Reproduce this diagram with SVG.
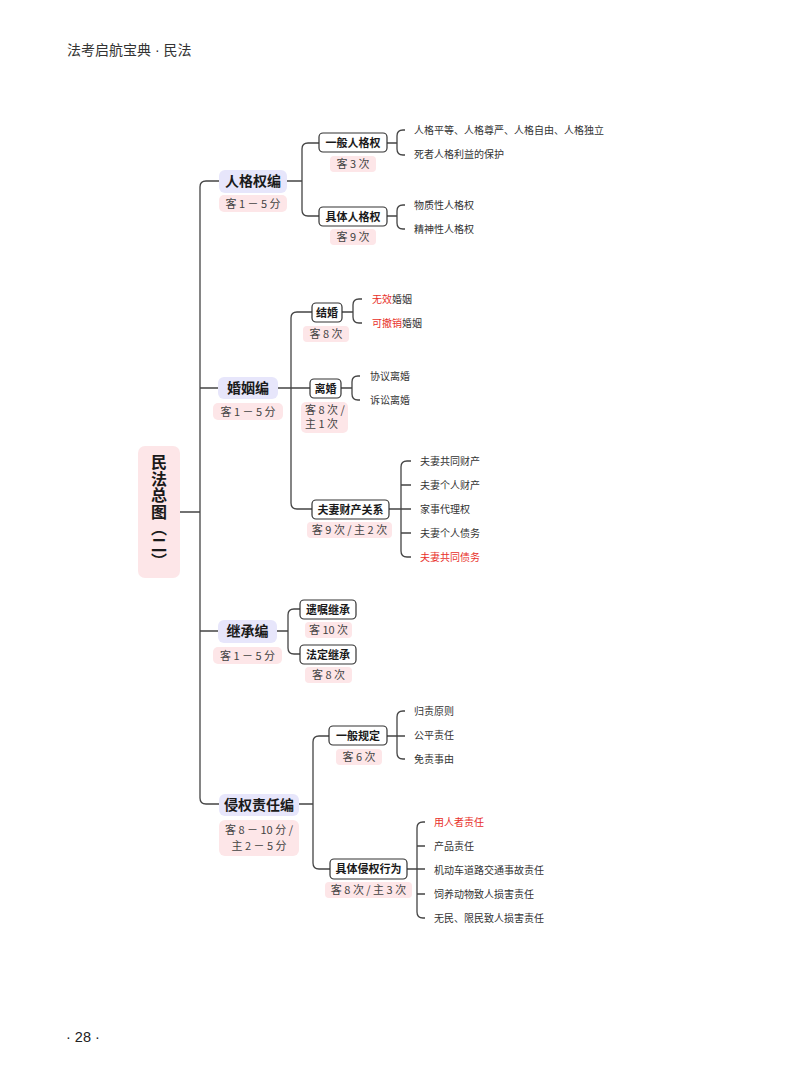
<svg xmlns="http://www.w3.org/2000/svg" width="800" height="1086" viewBox="0 0 800 1086">
<style>
text{font-family:"Noto Sans CJK SC","Noto Sans",sans-serif;fill:#333}
.l1{font-size:14px;font-weight:bold;fill:#1a1a1a;text-anchor:middle}
.l2{font-size:11px;font-weight:bold;fill:#1a1a1a;text-anchor:middle}
.lb{font-size:11px;text-anchor:middle;fill:#444}
.lf{font-size:10px}
.red{fill:#e8302a}
.r1{fill:#e7e6fb}
.r2{fill:#fff;stroke:#333;stroke-width:1.2}
.pk{fill:#fde6e8}
.cn{fill:none;stroke:#444;stroke-width:1.3}
</style>
<rect width="800" height="1086" fill="#fff"/>
<text x="67" y="55" style="font-size:14px;fill:#333">法考启航宝典<tspan style="font-family:'Liberation Sans',sans-serif"> · </tspan>民法</text>
<text x="66" y="1042" style="font-size:14.5px;fill:#222;font-family:'Liberation Sans',sans-serif">· 28 ·</text>

<g id="connectors" class="cn">
<path d="M180,512 H200 M220,181 H206 Q200,181 200,187 V798 Q200,804 206,804 H219 M200,388 H218 M200,631 H218"/>
<path d="M287,181 H302 M319,143 H308 Q302,143 302,149 V210 Q302,216 308,216 H319"/>
<path d="M387,143 H397 M405,130 H403 Q397,130 397,136 V149 Q397,155 403,155 H405"/>
<path d="M387,216 H397 M405,205 H403 Q397,205 397,211 V223 Q397,229 403,229 H405"/>
<path d="M278,388 H310 M312,312 H297 Q291,312 291,318 V503 Q291,509 297,509 H312"/>
<path d="M342,312 H353 M362,299 H359 Q353,299 353,305 V317 Q353,323 359,323 H362"/>
<path d="M341,388 H352 M360,376 H358 Q352,376 352,382 V394 Q352,400 358,400 H360"/>
<path d="M389,509 H411 M411,461 H407 Q401,461 401,467 V551 Q401,557 407,557 H411 M401,485 H411 M401,533 H411"/>
<path d="M277,631 H288 M300,609 H294 Q288,609 288,615 V648 Q288,654 294,654 H300"/>
<path d="M299,804 H313 M329,736 H319 Q313,736 313,742 V863 Q313,869 319,869 H330"/>
<path d="M387,736 H405 M405,711 H403 Q397,711 397,717 V753 Q397,759 403,759 H405"/>
<path d="M407,869 H425 M425,822 H423 Q417,822 417,828 V912 Q417,918 423,918 H425 M417,846 H425 M417,894 H425"/>
</g>

<g id="root">
<rect x="138" y="446" width="42" height="132" rx="7" class="pk"/>
<text x="159" y="512" style="font-size:16px;font-weight:bold;fill:#1a1a1a;writing-mode:vertical-rl;text-anchor:middle;letter-spacing:0.5px">民法总图（二）</text>
</g>

<g id="n-rgq">
<rect x="219" y="170" width="68" height="23" rx="6" class="r1"/>
<text x="253" y="186" class="l1">人格权编</text>
<rect x="219" y="195" width="68" height="17" rx="5" class="pk"/>
<text x="253" y="207.5" class="lb">客 1 － 5 分</text>
</g>
<g id="n-ybrgq">
<rect x="319" y="133" width="68" height="19" rx="4" class="r2"/>
<text x="353" y="146.8" class="l2">一般人格权</text>
<rect x="330" y="156" width="46" height="16" rx="4" class="pk"/>
<text x="353" y="168" class="lb">客 3 次</text>
<text x="414" y="134" class="lf">人格平等、人格尊严、人格自由、人格独立</text>
<text x="414" y="158" class="lf">死者人格利益的保护</text>
</g>
<g id="n-jtrgq">
<rect x="319" y="207" width="68" height="19" rx="4" class="r2"/>
<text x="353" y="220.8" class="l2">具体人格权</text>
<rect x="330" y="229" width="46" height="16" rx="4" class="pk"/>
<text x="353" y="241" class="lb">客 9 次</text>
<text x="414" y="209" class="lf">物质性人格权</text>
<text x="414" y="233" class="lf">精神性人格权</text>
</g>

<g id="n-hyb">
<rect x="218" y="377" width="60" height="22" rx="6" class="r1"/>
<text x="248" y="393" class="l1">婚姻编</text>
<rect x="213" y="403" width="70" height="17" rx="5" class="pk"/>
<text x="248" y="415.5" class="lb">客 1 － 5 分</text>
</g>
<g id="n-jh">
<rect x="312" y="303" width="30" height="19" rx="4" class="r2"/>
<text x="327" y="316.8" class="l2">结婚</text>
<rect x="303" y="326" width="46" height="16" rx="4" class="pk"/>
<text x="326" y="338" class="lb">客 8 次</text>
<text x="372" y="303" class="lf"><tspan class="red">无效</tspan>婚姻</text>
<text x="372" y="327" class="lf"><tspan class="red">可撤销</tspan>婚姻</text>
</g>
<g id="n-lh">
<rect x="310" y="379" width="31" height="19" rx="4" class="r2"/>
<text x="325.5" y="392.8" class="l2">离婚</text>
<rect x="301" y="402" width="47" height="31" rx="5" class="pk"/>
<text x="305" y="414" class="lb" style="text-anchor:start">客 8 次 /</text>
<text x="305" y="428" class="lb" style="text-anchor:start">主 1 次</text>
<text x="370" y="380" class="lf">协议离婚</text>
<text x="370" y="404" class="lf">诉讼离婚</text>
</g>
<g id="n-fqcc">
<rect x="312" y="500" width="77" height="19" rx="4" class="r2"/>
<text x="350.5" y="513.8" class="l2">夫妻财产关系</text>
<rect x="307" y="522" width="85" height="16" rx="4" class="pk"/>
<text x="349.5" y="534" class="lb">客 9 次 / 主 2 次</text>
<text x="420" y="465" class="lf">夫妻共同财产</text>
<text x="420" y="489" class="lf">夫妻个人财产</text>
<text x="420" y="513" class="lf">家事代理权</text>
<text x="420" y="537" class="lf">夫妻个人债务</text>
<text x="420" y="561" class="lf red">夫妻共同债务</text>
</g>

<g id="n-jcb">
<rect x="218" y="620" width="59" height="23" rx="6" class="r1"/>
<text x="247.5" y="636" class="l1">继承编</text>
<rect x="213" y="647" width="69" height="17" rx="5" class="pk"/>
<text x="247.5" y="659.5" class="lb">客 1 － 5 分</text>
</g>
<g id="n-yzjc">
<rect x="300" y="600" width="56" height="19" rx="4" class="r2"/>
<text x="328" y="613.8" class="l2">遗嘱继承</text>
<rect x="305" y="622" width="47" height="16" rx="4" class="pk"/>
<text x="328.5" y="634" class="lb">客 10 次</text>
</g>
<g id="n-fdjc">
<rect x="300" y="645" width="56" height="19" rx="4" class="r2"/>
<text x="328" y="658.8" class="l2">法定继承</text>
<rect x="305" y="667" width="47" height="16" rx="4" class="pk"/>
<text x="328.5" y="679" class="lb">客 8 次</text>
</g>

<g id="n-qqzr">
<rect x="219" y="794" width="80" height="22" rx="6" class="r1"/>
<text x="259" y="810" class="l1">侵权责任编</text>
<rect x="219" y="820" width="80" height="36" rx="6" class="pk"/>
<text x="259" y="834" class="lb">客 8 － 10 分 /</text>
<text x="259" y="850" class="lb">主 2 － 5 分</text>
</g>
<g id="n-ybgd">
<rect x="329" y="726" width="58" height="19" rx="4" class="r2"/>
<text x="358" y="739.8" class="l2">一般规定</text>
<rect x="336" y="749" width="46" height="16" rx="4" class="pk"/>
<text x="359" y="761" class="lb">客 6 次</text>
<text x="414" y="715" class="lf">归责原则</text>
<text x="414" y="739" class="lf">公平责任</text>
<text x="414" y="763" class="lf">免责事由</text>
</g>
<g id="n-jtqq">
<rect x="330" y="859" width="77" height="20" rx="4" class="r2"/>
<text x="368.5" y="873.3" class="l2">具体侵权行为</text>
<rect x="325" y="882" width="87" height="16" rx="4" class="pk"/>
<text x="368.5" y="894" class="lb">客 8 次 / 主 3 次</text>
<text x="434" y="826" class="lf red">用人者责任</text>
<text x="434" y="850" class="lf">产品责任</text>
<text x="434" y="874" class="lf">机动车道路交通事故责任</text>
<text x="434" y="898" class="lf">饲养动物致人损害责任</text>
<text x="434" y="922" class="lf">无民、限民致人损害责任</text>
</g>
</svg>
